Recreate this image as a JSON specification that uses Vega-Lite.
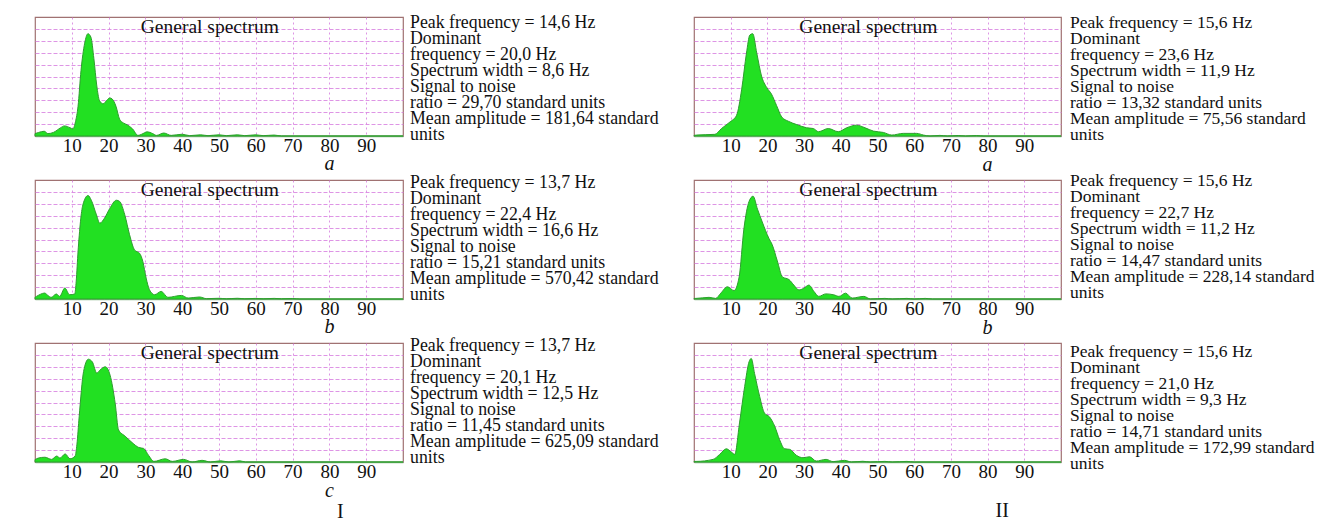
{
  "$schema": "https://vega.github.io/schema/vega-lite/v6.json",
  "padding": {"left": 32, "top": 14, "right": 0, "bottom": 0},
  "background": "white",
  "config": {
    "view": {"stroke": "#a07272", "strokeWidth": 1.2},
    "axis": {"grid": true, "gridColor": "#d67ade", "gridWidth": 1, "gridOpacity": 0.8, "ticks": false, "labelFont": "Liberation Serif", "labelFontSize": 19, "labelColor": "#111111", "domain": false, "labelOverlap": false, "labelBound": false},
    "text": {"font": "Liberation Serif", "color": "#111111"}
  },
  "datasets": {
    "Ia": [{"f":0,"v":0.2},{"f":1,"v":0.3},{"f":2.5,"v":0.4},{"f":3.5,"v":0.2},{"f":5,"v":0.3},{"f":7,"v":0.7},{"f":8,"v":0.85},{"f":9.5,"v":0.7},{"f":10.3,"v":0.6},{"f":11,"v":1.2},{"f":11.7,"v":2.5},{"f":12.5,"v":5.5},{"f":13.5,"v":7.8},{"f":14.4,"v":8.6},{"f":15.2,"v":8.3},{"f":16,"v":6.5},{"f":16.8,"v":4.2},{"f":17.5,"v":3.0},{"f":18.5,"v":2.7},{"f":19.5,"v":3.0},{"f":20.3,"v":3.2},{"f":21,"v":3.1},{"f":22,"v":2.5},{"f":23,"v":1.4},{"f":24,"v":1.1},{"f":25,"v":0.95},{"f":26.5,"v":0.6},{"f":28,"v":0.05},{"f":29,"v":0.15},{"f":30.5,"v":0.35},{"f":32,"v":0.2},{"f":33,"v":0.05},{"f":35,"v":0.25},{"f":37,"v":0.05},{"f":40,"v":0.15},{"f":42,"v":0.03},{"f":45,"v":0.1},{"f":47,"v":0.03},{"f":50,"v":0.1},{"f":52,"v":0.03},{"f":55,"v":0.1},{"f":57,"v":0.03},{"f":60,"v":0.1},{"f":62,"v":0.03},{"f":65,"v":0.08},{"f":67,"v":0},{"f":100,"v":0}],
    "Ib": [{"f":0,"v":0.15},{"f":0.4,"v":0.22},{"f":1.5,"v":0.4},{"f":2.6,"v":0.5},{"f":3.5,"v":0.3},{"f":4.4,"v":0.14},{"f":5.8,"v":0.42},{"f":6.7,"v":0.22},{"f":8.1,"v":0.92},{"f":9.4,"v":0.36},{"f":10.8,"v":0.42},{"f":11.2,"v":1.5},{"f":11.7,"v":4.0},{"f":13.0,"v":7.9},{"f":14.4,"v":8.7},{"f":15.3,"v":8.3},{"f":16.7,"v":7.07},{"f":17.6,"v":6.37},{"f":18.9,"v":6.8},{"f":20.3,"v":7.6},{"f":22.1,"v":8.3},{"f":23.0,"v":8.2},{"f":24.4,"v":7.07},{"f":25.7,"v":5.4},{"f":27.1,"v":4.1},{"f":28.4,"v":3.85},{"f":29.3,"v":3.16},{"f":30.2,"v":1.76},{"f":31.1,"v":0.78},{"f":32.5,"v":0.36},{"f":34.3,"v":0.64},{"f":36.1,"v":0.14},{"f":39.8,"v":0.3},{"f":41.6,"v":0.08},{"f":44.7,"v":0.17},{"f":46.6,"v":0.03},{"f":50,"v":0.06},{"f":52,"v":0.02},{"f":55,"v":0.06},{"f":57,"v":0.02},{"f":60,"v":0.05},{"f":62,"v":0.02},{"f":65,"v":0.05},{"f":67,"v":0.02},{"f":70,"v":0.04},{"f":72,"v":0},{"f":100,"v":0}],
    "Ic": [{"f":0,"v":0.2},{"f":0.9,"v":0.33},{"f":2.7,"v":0.4},{"f":4.5,"v":0.22},{"f":5.9,"v":0.5},{"f":6.8,"v":0.33},{"f":8.2,"v":0.68},{"f":9.5,"v":0.27},{"f":10.9,"v":0.5},{"f":11.4,"v":1.5},{"f":12.0,"v":3.8},{"f":13.2,"v":7.6},{"f":14.5,"v":8.64},{"f":15.6,"v":8.4},{"f":16.8,"v":7.47},{"f":17.7,"v":7.74},{"f":19.1,"v":8.0},{"f":20.4,"v":7.3},{"f":21.8,"v":4.9},{"f":22.7,"v":2.7},{"f":24.5,"v":2.17},{"f":26.4,"v":1.63},{"f":28.2,"v":1.22},{"f":29.5,"v":1.14},{"f":30.9,"v":0.54},{"f":32.3,"v":0.05},{"f":35.4,"v":0.27},{"f":37.3,"v":0.05},{"f":40.4,"v":0.22},{"f":42.7,"v":0},{"f":45.4,"v":0.14},{"f":47.7,"v":0},{"f":50.4,"v":0.1},{"f":52.7,"v":0},{"f":55.6,"v":0.1},{"f":57.2,"v":0},{"f":100,"v":0}],
    "IIa": [{"f":0,"v":0.05},{"f":0.7,"v":0.08},{"f":5.7,"v":0.14},{"f":7.5,"v":0.63},{"f":9.8,"v":1.18},{"f":11.6,"v":1.74},{"f":13.0,"v":3.94},{"f":14.3,"v":6.97},{"f":15.2,"v":8.48},{"f":16.0,"v":8.6},{"f":17.1,"v":6.97},{"f":18.4,"v":5.04},{"f":19.8,"v":4.08},{"f":21.1,"v":3.53},{"f":22.5,"v":2.56},{"f":23.9,"v":1.6},{"f":25.7,"v":1.24},{"f":28.0,"v":0.96},{"f":30.7,"v":0.69},{"f":32.5,"v":0.63},{"f":33.9,"v":0.36},{"f":36.6,"v":0.63},{"f":39.3,"v":0.36},{"f":41.6,"v":0.69},{"f":44.3,"v":0.91},{"f":46.6,"v":0.69},{"f":48.9,"v":0.41},{"f":51.6,"v":0.3},{"f":53.9,"v":0.08},{"f":57.0,"v":0.22},{"f":60.7,"v":0.22},{"f":62.5,"v":0.08},{"f":64.3,"v":0},{"f":67,"v":0.05},{"f":69,"v":0},{"f":72,"v":0.04},{"f":74,"v":0},{"f":77,"v":0.04},{"f":79,"v":0},{"f":100,"v":0}],
    "IIb": [{"f":0,"v":0.05},{"f":0.5,"v":0.05},{"f":4.1,"v":0.14},{"f":5.9,"v":0.05},{"f":7.3,"v":0.49},{"f":9.1,"v":1.03},{"f":10.9,"v":0.71},{"f":12.3,"v":1.85},{"f":13.6,"v":5.9},{"f":15.0,"v":8.2},{"f":16.1,"v":8.64},{"f":17.3,"v":7.55},{"f":18.6,"v":6.47},{"f":20.4,"v":5.1},{"f":21.3,"v":4.57},{"f":22.7,"v":3.2},{"f":24.1,"v":1.85},{"f":25.9,"v":1.63},{"f":27.2,"v":1.17},{"f":28.6,"v":0.76},{"f":29.9,"v":0.9},{"f":31.3,"v":1.17},{"f":32.7,"v":0.63},{"f":34.0,"v":0.22},{"f":35.9,"v":0.43},{"f":38.1,"v":0.35},{"f":39.5,"v":0.22},{"f":41.3,"v":0.49},{"f":43.1,"v":0.08},{"f":46.3,"v":0.22},{"f":48.1,"v":0},{"f":52,"v":0.05},{"f":54,"v":0},{"f":58,"v":0.05},{"f":60,"v":0},{"f":63,"v":0.05},{"f":65,"v":0},{"f":100,"v":0}],
    "IIc": [{"f":0,"v":0.05},{"f":0.6,"v":0.05},{"f":5.2,"v":0.22},{"f":7.0,"v":0.64},{"f":8.8,"v":1.11},{"f":10.2,"v":0.83},{"f":11.1,"v":0.64},{"f":12.4,"v":3.28},{"f":13.8,"v":6.33},{"f":15.0,"v":8.42},{"f":15.6,"v":8.7},{"f":16.5,"v":7.44},{"f":17.9,"v":5.5},{"f":19.2,"v":4.11},{"f":20.6,"v":3.78},{"f":22.0,"v":3.0},{"f":23.3,"v":1.89},{"f":24.7,"v":1.11},{"f":26.1,"v":1.06},{"f":27.9,"v":0.56},{"f":29.7,"v":0.36},{"f":31.5,"v":0.44},{"f":33.3,"v":0.08},{"f":36.0,"v":0.22},{"f":37.9,"v":0.03},{"f":41.0,"v":0.14},{"f":42.9,"v":0},{"f":46,"v":0.06},{"f":48,"v":0},{"f":52,"v":0.05},{"f":54,"v":0},{"f":58,"v":0.05},{"f":60,"v":0},{"f":100,"v":0}],
    "tIa": [{"line":1,"t":"Peak frequency = 14,6 Hz"},{"line":2,"t":"Dominant"},{"line":3,"t":"frequency = 20,0 Hz"},{"line":4,"t":"Spectrum width = 8,6 Hz"},{"line":5,"t":"Signal to noise"},{"line":6,"t":"ratio = 29,70 standard units"},{"line":7,"t":"Mean amplitude = 181,64 standard"},{"line":8,"t":"units"}],
    "tIb": [{"line":1,"t":"Peak frequency = 13,7 Hz"},{"line":2,"t":"Dominant"},{"line":3,"t":"frequency = 22,4 Hz"},{"line":4,"t":"Spectrum width = 16,6 Hz"},{"line":5,"t":"Signal to noise"},{"line":6,"t":"ratio = 15,21 standard units"},{"line":7,"t":"Mean amplitude = 570,42 standard"},{"line":8,"t":"units"}],
    "tIc": [{"line":1,"t":"Peak frequency = 13,7 Hz"},{"line":2,"t":"Dominant"},{"line":3,"t":"frequency = 20,1 Hz"},{"line":4,"t":"Spectrum width = 12,5 Hz"},{"line":5,"t":"Signal to noise"},{"line":6,"t":"ratio = 11,45 standard units"},{"line":7,"t":"Mean amplitude = 625,09 standard"},{"line":8,"t":"units"}],
    "tIIa": [{"line":1,"t":"Peak frequency = 15,6 Hz"},{"line":2,"t":"Dominant"},{"line":3,"t":"frequency = 23,6 Hz"},{"line":4,"t":"Spectrum width = 11,9 Hz"},{"line":5,"t":"Signal to noise"},{"line":6,"t":"ratio = 13,32 standard units"},{"line":7,"t":"Mean amplitude = 75,56 standard"},{"line":8,"t":"units"}],
    "tIIb": [{"line":1,"t":"Peak frequency = 15,6 Hz"},{"line":2,"t":"Dominant"},{"line":3,"t":"frequency = 22,7 Hz"},{"line":4,"t":"Spectrum width = 11,2 Hz"},{"line":5,"t":"Signal to noise"},{"line":6,"t":"ratio = 14,47 standard units"},{"line":7,"t":"Mean amplitude = 228,14 standard"},{"line":8,"t":"units"}],
    "tIIc": [{"line":1,"t":"Peak frequency = 15,6 Hz"},{"line":2,"t":"Dominant"},{"line":3,"t":"frequency = 21,0 Hz"},{"line":4,"t":"Spectrum width = 9,3 Hz"},{"line":5,"t":"Signal to noise"},{"line":6,"t":"ratio = 14,71 standard units"},{"line":7,"t":"Mean amplitude = 172,99 standard"},{"line":8,"t":"units"}]
  },
  "columns": 4,
  "spacing": {"row": 44, "column": 7},
  "bounds": "flush",
  "concat": [
    {
      "width": 368, "height": 119,
      "layer": [
        {"data": {"name": "Ia"}, "mark": {"type": "area", "interpolate": "monotone", "fill": "#22e022", "stroke": "#2e9e2e", "strokeWidth": 1},
         "encoding": {
           "x": {"field": "f", "type": "quantitative", "title": null, "scale": {"domain": [0, 100], "nice": false, "zero": false}, "axis": {"values": [10,20,30,40,50,60,70,80,90], "labelPadding": 0, "domain": true, "domainColor": "#8cb88c", "domainWidth": 1.5, "gridDash": [2, 3]}},
           "y": {"field": "v", "type": "quantitative", "title": null, "scale": {"domain": [0, 10], "nice": false}, "axis": {"values": [1,2,3,4,5,6,7,8,9], "tickCount": 10, "labels": false, "gridDash": [4, 2]}}
         }},
        {"data": {"values": [{}]}, "mark": {"type": "text", "text": "General spectrum", "fontSize": 19.5, "baseline": "middle"}, "encoding": {"x": {"datum": 47.5}, "y": {"datum": 9.15}}},
        {"data": {"values": [{}]}, "mark": {"type": "text", "text": "a", "fontSize": 20, "fontStyle": "italic", "baseline": "middle", "dy": 28}, "encoding": {"x": {"datum": 80}, "y": {"datum": 0}}}
      ]
    },
    {
      "width": 277, "height": 119, "view": {"stroke": null},
      "data": {"name": "tIa"},
      "mark": {"type": "text", "align": "left", "baseline": "middle", "fontSize": 17.8},
      "encoding": {
        "x": {"datum": 0, "scale": {"domain": [0, 1]}, "axis": null},
        "y": {"field": "line", "type": "quantitative", "scale": {"domain": [0.625, 8.0625], "reverse": true, "nice": false, "zero": false}, "axis": null},
        "text": {"field": "t"}
      }
    },
    {
      "width": 367, "height": 119,
      "layer": [
        {"data": {"name": "IIa"}, "mark": {"type": "area", "interpolate": "monotone", "fill": "#22e022", "stroke": "#2e9e2e", "strokeWidth": 1},
         "encoding": {
           "x": {"field": "f", "type": "quantitative", "title": null, "scale": {"domain": [0, 100], "nice": false, "zero": false}, "axis": {"values": [10,20,30,40,50,60,70,80,90], "labelPadding": 0, "domain": true, "domainColor": "#8cb88c", "domainWidth": 1.5, "gridDash": [2, 3]}},
           "y": {"field": "v", "type": "quantitative", "title": null, "scale": {"domain": [0, 10], "nice": false}, "axis": {"values": [1,2,3,4,5,6,7,8,9], "tickCount": 10, "labels": false, "gridDash": [4, 2]}}
         }},
        {"data": {"values": [{}]}, "mark": {"type": "text", "text": "General spectrum", "fontSize": 19.5, "baseline": "middle"}, "encoding": {"x": {"datum": 47.5}, "y": {"datum": 9.15}}},
        {"data": {"values": [{}]}, "mark": {"type": "text", "text": "a", "fontSize": 20, "fontStyle": "italic", "baseline": "middle", "dy": 29}, "encoding": {"x": {"datum": 80}, "y": {"datum": 0}}}
      ]
    },
    {
      "width": 250, "height": 119, "view": {"stroke": null},
      "data": {"name": "tIIa"},
      "mark": {"type": "text", "align": "left", "baseline": "middle", "fontSize": 17.5, "dx": 2},
      "encoding": {
        "x": {"datum": 0, "scale": {"domain": [0, 1]}, "axis": null},
        "y": {"field": "line", "type": "quantitative", "scale": {"domain": [0.625, 8.0625], "reverse": true, "nice": false, "zero": false}, "axis": null},
        "text": {"field": "t"}
      }
    },
    {
      "width": 368, "height": 119,
      "layer": [
        {"data": {"name": "Ib"}, "mark": {"type": "area", "interpolate": "monotone", "fill": "#22e022", "stroke": "#2e9e2e", "strokeWidth": 1},
         "encoding": {
           "x": {"field": "f", "type": "quantitative", "title": null, "scale": {"domain": [0, 100], "nice": false, "zero": false}, "axis": {"values": [10,20,30,40,50,60,70,80,90], "labelPadding": 0, "domain": true, "domainColor": "#8cb88c", "domainWidth": 1.5, "gridDash": [2, 3]}},
           "y": {"field": "v", "type": "quantitative", "title": null, "scale": {"domain": [0, 10], "nice": false}, "axis": {"values": [1,2,3,4,5,6,7,8,9], "tickCount": 10, "labels": false, "gridDash": [4, 2]}}
         }},
        {"data": {"values": [{}]}, "mark": {"type": "text", "text": "General spectrum", "fontSize": 19.5, "baseline": "middle"}, "encoding": {"x": {"datum": 47.5}, "y": {"datum": 9.15}}},
        {"data": {"values": [{}]}, "mark": {"type": "text", "text": "b", "fontSize": 20, "fontStyle": "italic", "baseline": "middle", "dy": 28}, "encoding": {"x": {"datum": 80}, "y": {"datum": 0}}}
      ]
    },
    {
      "width": 277, "height": 119, "view": {"stroke": null},
      "data": {"name": "tIb"},
      "mark": {"type": "text", "align": "left", "baseline": "middle", "fontSize": 17.8},
      "encoding": {
        "x": {"datum": 0, "scale": {"domain": [0, 1]}, "axis": null},
        "y": {"field": "line", "type": "quantitative", "scale": {"domain": [0.8125, 8.25], "reverse": true, "nice": false, "zero": false}, "axis": null},
        "text": {"field": "t"}
      }
    },
    {
      "width": 367, "height": 119,
      "layer": [
        {"data": {"name": "IIb"}, "mark": {"type": "area", "interpolate": "monotone", "fill": "#22e022", "stroke": "#2e9e2e", "strokeWidth": 1},
         "encoding": {
           "x": {"field": "f", "type": "quantitative", "title": null, "scale": {"domain": [0, 100], "nice": false, "zero": false}, "axis": {"values": [10,20,30,40,50,60,70,80,90], "labelPadding": 0, "domain": true, "domainColor": "#8cb88c", "domainWidth": 1.5, "gridDash": [2, 3]}},
           "y": {"field": "v", "type": "quantitative", "title": null, "scale": {"domain": [0, 10], "nice": false}, "axis": {"values": [1,2,3,4,5,6,7,8,9], "tickCount": 10, "labels": false, "gridDash": [4, 2]}}
         }},
        {"data": {"values": [{}]}, "mark": {"type": "text", "text": "General spectrum", "fontSize": 19.5, "baseline": "middle"}, "encoding": {"x": {"datum": 47.5}, "y": {"datum": 9.15}}},
        {"data": {"values": [{}]}, "mark": {"type": "text", "text": "b", "fontSize": 20, "fontStyle": "italic", "baseline": "middle", "dy": 29}, "encoding": {"x": {"datum": 80}, "y": {"datum": 0}}}
      ]
    },
    {
      "width": 250, "height": 119, "view": {"stroke": null},
      "data": {"name": "tIIb"},
      "mark": {"type": "text", "align": "left", "baseline": "middle", "fontSize": 17.5, "dx": 2},
      "encoding": {
        "x": {"datum": 0, "scale": {"domain": [0, 1]}, "axis": null},
        "y": {"field": "line", "type": "quantitative", "scale": {"domain": [0.9375, 8.375], "reverse": true, "nice": false, "zero": false}, "axis": null},
        "text": {"field": "t"}
      }
    },
    {
      "width": 368, "height": 119,
      "layer": [
        {"data": {"name": "Ic"}, "mark": {"type": "area", "interpolate": "monotone", "fill": "#22e022", "stroke": "#2e9e2e", "strokeWidth": 1},
         "encoding": {
           "x": {"field": "f", "type": "quantitative", "title": null, "scale": {"domain": [0, 100], "nice": false, "zero": false}, "axis": {"values": [10,20,30,40,50,60,70,80,90], "labelPadding": 0, "domain": true, "domainColor": "#8cb88c", "domainWidth": 1.5, "gridDash": [2, 3]}},
           "y": {"field": "v", "type": "quantitative", "title": null, "scale": {"domain": [0, 10], "nice": false}, "axis": {"values": [1,2,3,4,5,6,7,8,9], "tickCount": 10, "labels": false, "gridDash": [4, 2]}}
         }},
        {"data": {"values": [{}]}, "mark": {"type": "text", "text": "General spectrum", "fontSize": 19.5, "baseline": "middle"}, "encoding": {"x": {"datum": 47.5}, "y": {"datum": 9.15}}},
        {"data": {"values": [{}]}, "mark": {"type": "text", "text": "c", "fontSize": 20, "fontStyle": "italic", "baseline": "middle", "dy": 29}, "encoding": {"x": {"datum": 80}, "y": {"datum": 0}}},
        {"data": {"values": [{}]}, "mark": {"type": "text", "text": "I", "fontSize": 20, "baseline": "middle", "dy": 50}, "encoding": {"x": {"datum": 83}, "y": {"datum": 0}}}
      ]
    },
    {
      "width": 277, "height": 119, "view": {"stroke": null},
      "data": {"name": "tIc"},
      "mark": {"type": "text", "align": "left", "baseline": "middle", "fontSize": 17.8},
      "encoding": {
        "x": {"datum": 0, "scale": {"domain": [0, 1]}, "axis": null},
        "y": {"field": "line", "type": "quantitative", "scale": {"domain": [0.8125, 8.25], "reverse": true, "nice": false, "zero": false}, "axis": null},
        "text": {"field": "t"}
      }
    },
    {
      "width": 367, "height": 119,
      "layer": [
        {"data": {"name": "IIc"}, "mark": {"type": "area", "interpolate": "monotone", "fill": "#22e022", "stroke": "#2e9e2e", "strokeWidth": 1},
         "encoding": {
           "x": {"field": "f", "type": "quantitative", "title": null, "scale": {"domain": [0, 100], "nice": false, "zero": false}, "axis": {"values": [10,20,30,40,50,60,70,80,90], "labelPadding": 0, "domain": true, "domainColor": "#8cb88c", "domainWidth": 1.5, "gridDash": [2, 3]}},
           "y": {"field": "v", "type": "quantitative", "title": null, "scale": {"domain": [0, 10], "nice": false}, "axis": {"values": [1,2,3,4,5,6,7,8,9], "tickCount": 10, "labels": false, "gridDash": [4, 2]}}
         }},
        {"data": {"values": [{}]}, "mark": {"type": "text", "text": "General spectrum", "fontSize": 19.5, "baseline": "middle"}, "encoding": {"x": {"datum": 47.5}, "y": {"datum": 9.15}}},
        {"data": {"values": [{}]}, "mark": {"type": "text", "text": "II", "fontSize": 20, "baseline": "middle", "dy": 49}, "encoding": {"x": {"datum": 84}, "y": {"datum": 0}}}
      ]
    },
    {
      "width": 250, "height": 119, "view": {"stroke": null},
      "data": {"name": "tIIc"},
      "mark": {"type": "text", "align": "left", "baseline": "middle", "fontSize": 17.5, "dx": 2},
      "encoding": {
        "x": {"datum": 0, "scale": {"domain": [0, 1]}, "axis": null},
        "y": {"field": "line", "type": "quantitative", "scale": {"domain": [0.4375, 7.875], "reverse": true, "nice": false, "zero": false}, "axis": null},
        "text": {"field": "t"}
      }
    }
  ]
}
